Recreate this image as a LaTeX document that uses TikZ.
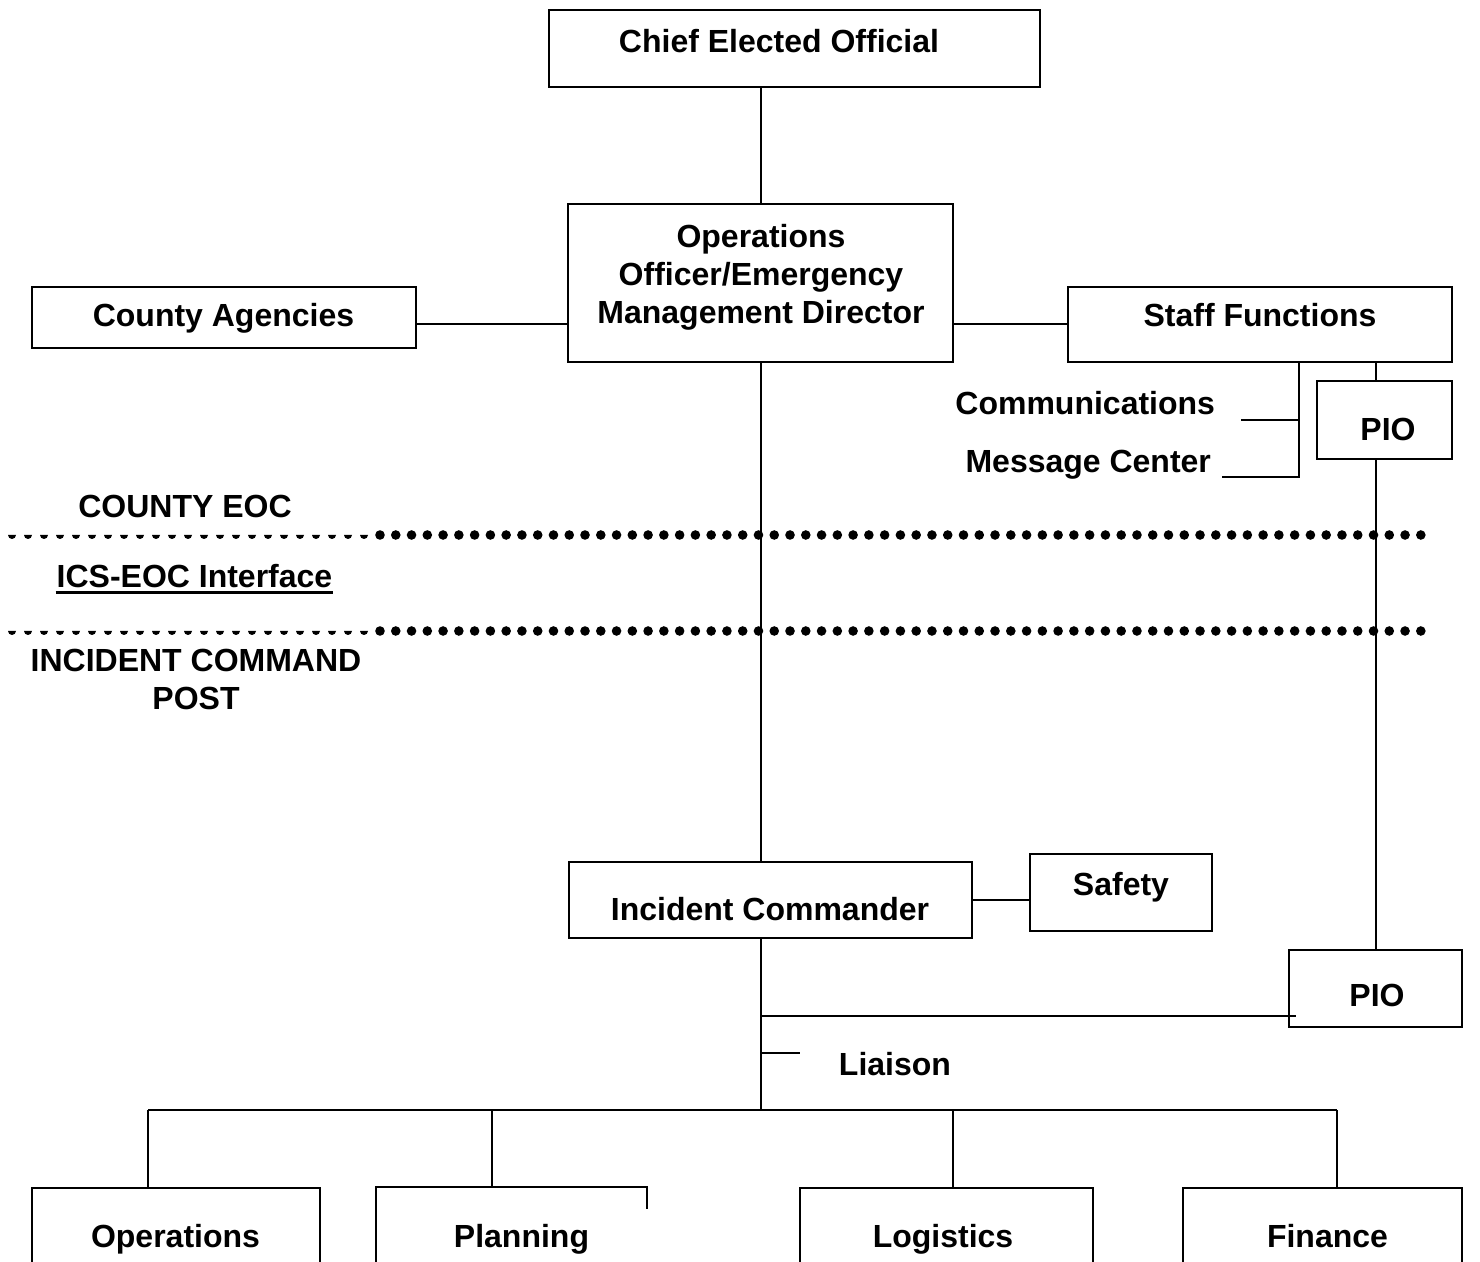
\documentclass[tikz,border=0pt]{standalone}
\usepackage{fontspec}
\setmainfont{Liberation Sans}
\tikzset{
  box/.style={draw, line width=1pt, inner sep=0pt},
  lbl/.style={font=\bfseries\fontsize{16}{19}\selectfont, inner sep=0pt, anchor=base},
}
\begin{document}
\begin{tikzpicture}[x=0.5pt, y=-0.5pt, line width=1pt]
  \useasboundingbox (0,0) rectangle (1480,1262);
  \clip (0,0) rectangle (1480,1262);
  % boxes
  \node[box, minimum width=245.5pt, minimum height=38.5pt] (chief) at (794.5,48.5) {};
  \node[box, minimum width=192.5pt, minimum height=79pt] (opsdir) at (760.5,283) {};
  \node[box, minimum width=192pt, minimum height=30.5pt] (county) at (224,317.5) {};
  \node[box, minimum width=192pt, minimum height=37.5pt] (staff) at (1260,324.5) {};
  \node[box, minimum width=67.5pt, minimum height=39pt] (pio1) at (1384.5,420) {};
  \node[box, minimum width=201.5pt, minimum height=38pt] (ic) at (770.5,900) {};
  \node[box, minimum width=91pt, minimum height=38.5pt] (safety) at (1121,892.5) {};
  \node[box, minimum width=86.5pt, minimum height=38.5pt] (pio2) at (1375.5,988.5) {};
  \node[box, line width=1.3pt, minimum width=144pt, minimum height=50pt] (ops) at (176,1238) {};
  \node[inner sep=0pt, minimum width=134.5pt, minimum height=50pt] (plan) at (511.5,1238) {};
  \draw[line width=1.3pt] (plan.south west) -- (plan.north west) -- (plan.north east) -- ++(0,22);
  \node[box, line width=1.3pt, minimum width=146.5pt, minimum height=50pt] (log) at (946.5,1238) {};
  \node[box, line width=1.3pt, minimum width=139.5pt, minimum height=50pt] (fin) at (1322.5,1238) {};

  % texts
  \node[lbl] at (779,53) {Chief Elected Official};
  \node[lbl, anchor=center, align=center] at (761,277.5) {Operations\\Officer/Emergency\\Management Director};
  \node[lbl] at (223.5,327) {County Agencies};
  \node[lbl] at (1260,327) {Staff Functions};
  \node[lbl, anchor=base east] (comm) at (1216,415) {Communications};
  \node[lbl, anchor=base east] (msg) at (1212,473) {Message Center};
  \node[lbl] at (1388,441) {PIO};
  \node[lbl] at (185,518) {COUNTY EOC};
  \node[lbl] (ics) at (194.5,588) {ICS-EOC Interface};
  \draw[line width=1.5pt] ([yshift=-2.5pt]ics.base west) -- ([yshift=-2.5pt]ics.base east);
  \node[lbl, anchor=center, align=center] at (196,679) {INCIDENT COMMAND\\POST};
  \node[lbl] at (770,921) {Incident Commander};
  \node[lbl] at (1121,896) {Safety};
  \node[lbl] at (1377,1007) {PIO};
  \node[lbl] at (895,1075) {Liaison};
  \node[lbl] at (175.5,1247) {Operations};
  \node[lbl] at (521.5,1247) {Planning};
  \node[lbl] at (943,1247) {Logistics};
  \node[lbl] at (1327.5,1247) {Finance};

  % dotted separators
  \foreach \y in {535,631} {
    \foreach \i in {0,...,22}
      \fill (8+16*\i,\y) arc[start angle=180, end angle=0, radius=4] -- cycle;
    \foreach \i in {0,...,66}
      \fill (380+15.77*\i,\y) circle[radius=4.8];
  }

  % connectors
  \draw (opsdir.north) -- (opsdir.north |- chief.south);
  \draw (county.east |- staff.west) -- (opsdir.west |- staff.west);
  \draw (opsdir.east |- staff.west) -- (staff.west);
  \coordinate (sf) at (1299,477);
  \coordinate (comm-end) at (1241,420);
  \coordinate (msg-end) at (1222,477);
  \draw (sf |- staff.south) -- (sf) -- (msg-end);
  \draw (comm-end) -- (comm-end -| sf);
  \draw (pio2.north |- staff.south) -- (pio2.north |- pio1.north);
  \draw (pio2.north |- pio1.south) -- (pio2.north);
  \draw (opsdir.south) -- (opsdir.south |- ic.north);
  \draw (ic.east) -- (ic.east -| safety.west);
  \coordinate (trunk) at (760.5,1110);
  \coordinate (pio-in) at (1296,1016);
  \coordinate (liaison-end) at (800,1053);
  \draw (opsdir.south |- ic.south) -- (trunk);
  \draw (trunk |- pio-in) -- (pio-in);
  \draw (trunk |- liaison-end) -- (liaison-end);
  \coordinate (b1) at (148,1110);
  \coordinate (b2) at (492,1110);
  \coordinate (b3) at (953,1110);
  \coordinate (b4) at (1337,1110);
  \draw (b1) -- (b4);
  \foreach \b/\n in {b1/ops, b2/plan, b3/log, b4/fin}
    \draw (\b) -- (\b |- \n.north);
\end{tikzpicture}
\end{document}
